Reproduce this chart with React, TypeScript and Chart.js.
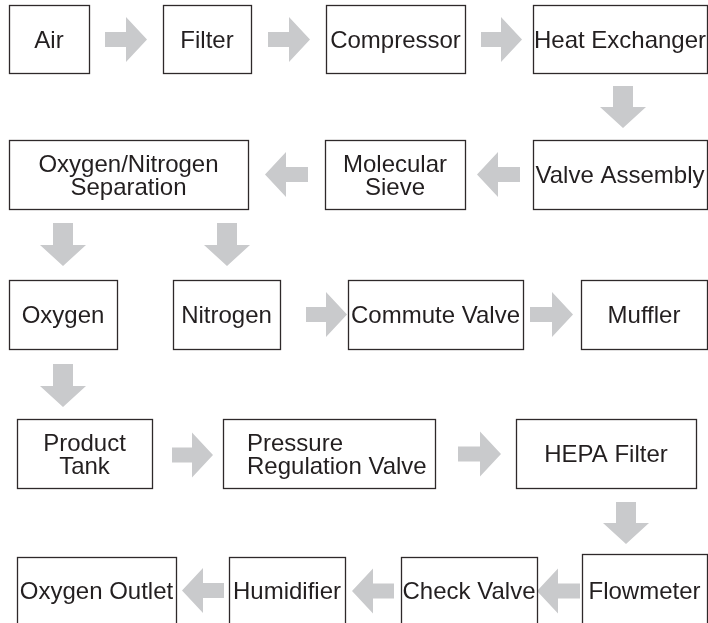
import React, { useEffect, useRef } from "react";
import { Chart, registerables } from "chart.js";

Chart.register(...registerables);

// Flowchart nodes: label lines and box extents in chart units (x: 0..708, y: 0..623 top-down)
const nodeLabels: string[][] = [
  ["Air"],
  ["Filter"],
  ["Compressor"],
  ["Heat Exchanger"],
  ["Valve Assembly"],
  ["Molecular", "Sieve"],
  ["Oxygen/Nitrogen", "Separation"],
  ["Oxygen"],
  ["Nitrogen"],
  ["Commute Valve"],
  ["Muffler"],
  ["Product", "Tank"],
  ["Pressure", "Regulation Valve"],
  ["HEPA Filter"],
  ["Flowmeter"],
  ["Check Valve"],
  ["Humidifier"],
  ["Oxygen Outlet"],
];
const nodeX0 = [9, 163, 326, 533, 533, 325, 9, 9, 173, 348, 581, 17, 223, 516, 582, 401, 229, 17];
const nodeX1 = [89, 251, 465, 707, 707, 465, 248, 117, 280, 523, 707, 152, 435, 696, 707, 537, 345, 176];
const nodeY0 = [5, 5, 5, 5, 140, 140, 140, 280, 280, 280, 280, 419, 419, 419, 554, 557, 557, 557];
const nodeY1 = [73, 73, 73, 73, 209, 209, 209, 349, 349, 349, 349, 488, 488, 488, 628, 628, 628, 628];
const nodeAlign = ["c", "c", "c", "c", "c", "c", "c", "c", "c", "c", "c", "c", "l", "c", "c", "c", "c", "c"];

// Arrows: tail -> tip
const arrowFromX = [105, 268, 481, 623, 520, 308, 63, 227, 306, 530, 63, 172, 458, 626, 580, 394, 224];
const arrowFromY = [39.5, 39.5, 39.5, 86, 174.5, 174.5, 223, 223, 314.5, 314.5, 364, 455, 454, 502, 591, 591, 590.5];
const arrowToX = [147, 310, 522, 623, 477, 265, 63, 227, 347, 573, 63, 213, 501, 626, 537, 352, 182];
const arrowToY = [39.5, 39.5, 39.5, 128, 174.5, 174.5, 266, 266, 314.5, 314.5, 407, 455, 454, 544, 591, 591, 590.5];

const FONT = "24px 'Liberation Sans', Arial, Helvetica, sans-serif";
const TEXT_COLOR = "#231f20";
const BORDER_COLOR = "#2e292a";
const ARROW_COLOR = "#c9cacc";

const flowPlugin = {
  id: "flowchart",
  afterDraw(chart: any) {
    const ctx: CanvasRenderingContext2D = chart.ctx;
    const xs = chart.scales.x;
    const ys = chart.scales.y;
    const px = (v: number) => xs.getPixelForValue(v);
    const py = (v: number) => ys.getPixelForValue(v);
    ctx.save();

    // arrows
    ctx.fillStyle = ARROW_COLOR;
    for (let i = 0; i < arrowFromX.length; i++) {
      const x0 = px(arrowFromX[i]);
      const y0 = py(arrowFromY[i]);
      const x1 = px(arrowToX[i]);
      const y1 = py(arrowToY[i]);
      const dx = x1 - x0;
      const dy = y1 - y0;
      const len = Math.hypot(dx, dy);
      const ux = dx / len;
      const uy = dy / len;
      const nx = -uy;
      const ny = ux;
      const vertical = Math.abs(dy) > Math.abs(dx);
      const shaftHalf = vertical ? 10 : 7.5;
      const headHalf = vertical ? 23 : 22.5;
      const headLen = 21;
      const hx = x1 - ux * headLen;
      const hy = y1 - uy * headLen;
      ctx.beginPath();
      ctx.moveTo(x0 + nx * shaftHalf, y0 + ny * shaftHalf);
      ctx.lineTo(hx + nx * shaftHalf, hy + ny * shaftHalf);
      ctx.lineTo(hx + nx * headHalf, hy + ny * headHalf);
      ctx.lineTo(x1, y1);
      ctx.lineTo(hx - nx * headHalf, hy - ny * headHalf);
      ctx.lineTo(hx - nx * shaftHalf, hy - ny * shaftHalf);
      ctx.lineTo(x0 - nx * shaftHalf, y0 - ny * shaftHalf);
      ctx.closePath();
      ctx.fill();
    }

    // boxes
    ctx.strokeStyle = BORDER_COLOR;
    ctx.lineWidth = 1.3;
    ctx.font = FONT;
    ctx.fillStyle = TEXT_COLOR;
    ctx.textBaseline = "alphabetic";
    for (let i = 0; i < nodeLabels.length; i++) {
      const x0 = px(nodeX0[i]);
      const x1 = px(nodeX1[i]);
      const y0 = py(nodeY0[i]);
      const y1 = py(nodeY1[i]);
      ctx.strokeRect(Math.round(x0) + 0.5, Math.round(y0) + 0.5, Math.round(x1 - x0), Math.round(y1 - y0));
      const lines = nodeLabels[i];
      const cy = i >= 14 ? py(590.5) : (y0 + y1) / 2;
      const cx = (x0 + x1) / 2;
      const lineH = 23;
      const first = cy + 8.5 - ((lines.length - 1) * lineH) / 2;
      lines.forEach((ln, k) => {
        if (nodeAlign[i] === "l") {
          ctx.textAlign = "left";
          ctx.fillText(ln, x0 + 24, first + k * lineH);
        } else {
          ctx.textAlign = "center";
          ctx.fillText(ln, cx, first + k * lineH);
        }
      });
    }
    ctx.restore();
  },
};

export default function App() {
  const ref = useRef<HTMLCanvasElement | null>(null);
  useEffect(() => {
    document.body.style.margin = "0";
    document.body.style.background = "#ffffff";
    if (!ref.current) return;
    const chart = new Chart(ref.current, {
      type: "scatter",
      data: {
        datasets: [
          {
            label: "nodes",
            data: nodeLabels.map((_, i) => ({
              x: (nodeX0[i] + nodeX1[i]) / 2,
              y: (nodeY0[i] + nodeY1[i]) / 2,
            })),
            pointRadius: 0,
            pointHoverRadius: 0,
          },
        ],
      },
      options: {
        animation: false,
        responsive: false,
        maintainAspectRatio: false,
        devicePixelRatio: 1,
        layout: { padding: 0 },
        events: [],
        plugins: {
          legend: { display: false },
          tooltip: { enabled: false },
          title: { display: false },
        },
        scales: {
          x: { type: "linear", min: 0, max: 708, display: false },
          y: { type: "linear", min: 0, max: 623, reverse: true, display: false },
        },
      },
      plugins: [flowPlugin],
    });
    return () => chart.destroy();
  }, []);
  return (
    <div style={{ position: "absolute", left: 0, top: 0, width: 708, height: 623, background: "#fff" }}>
      <canvas ref={ref} width={708} height={623} style={{ width: 708, height: 623, display: "block" }} />
    </div>
  );
}
